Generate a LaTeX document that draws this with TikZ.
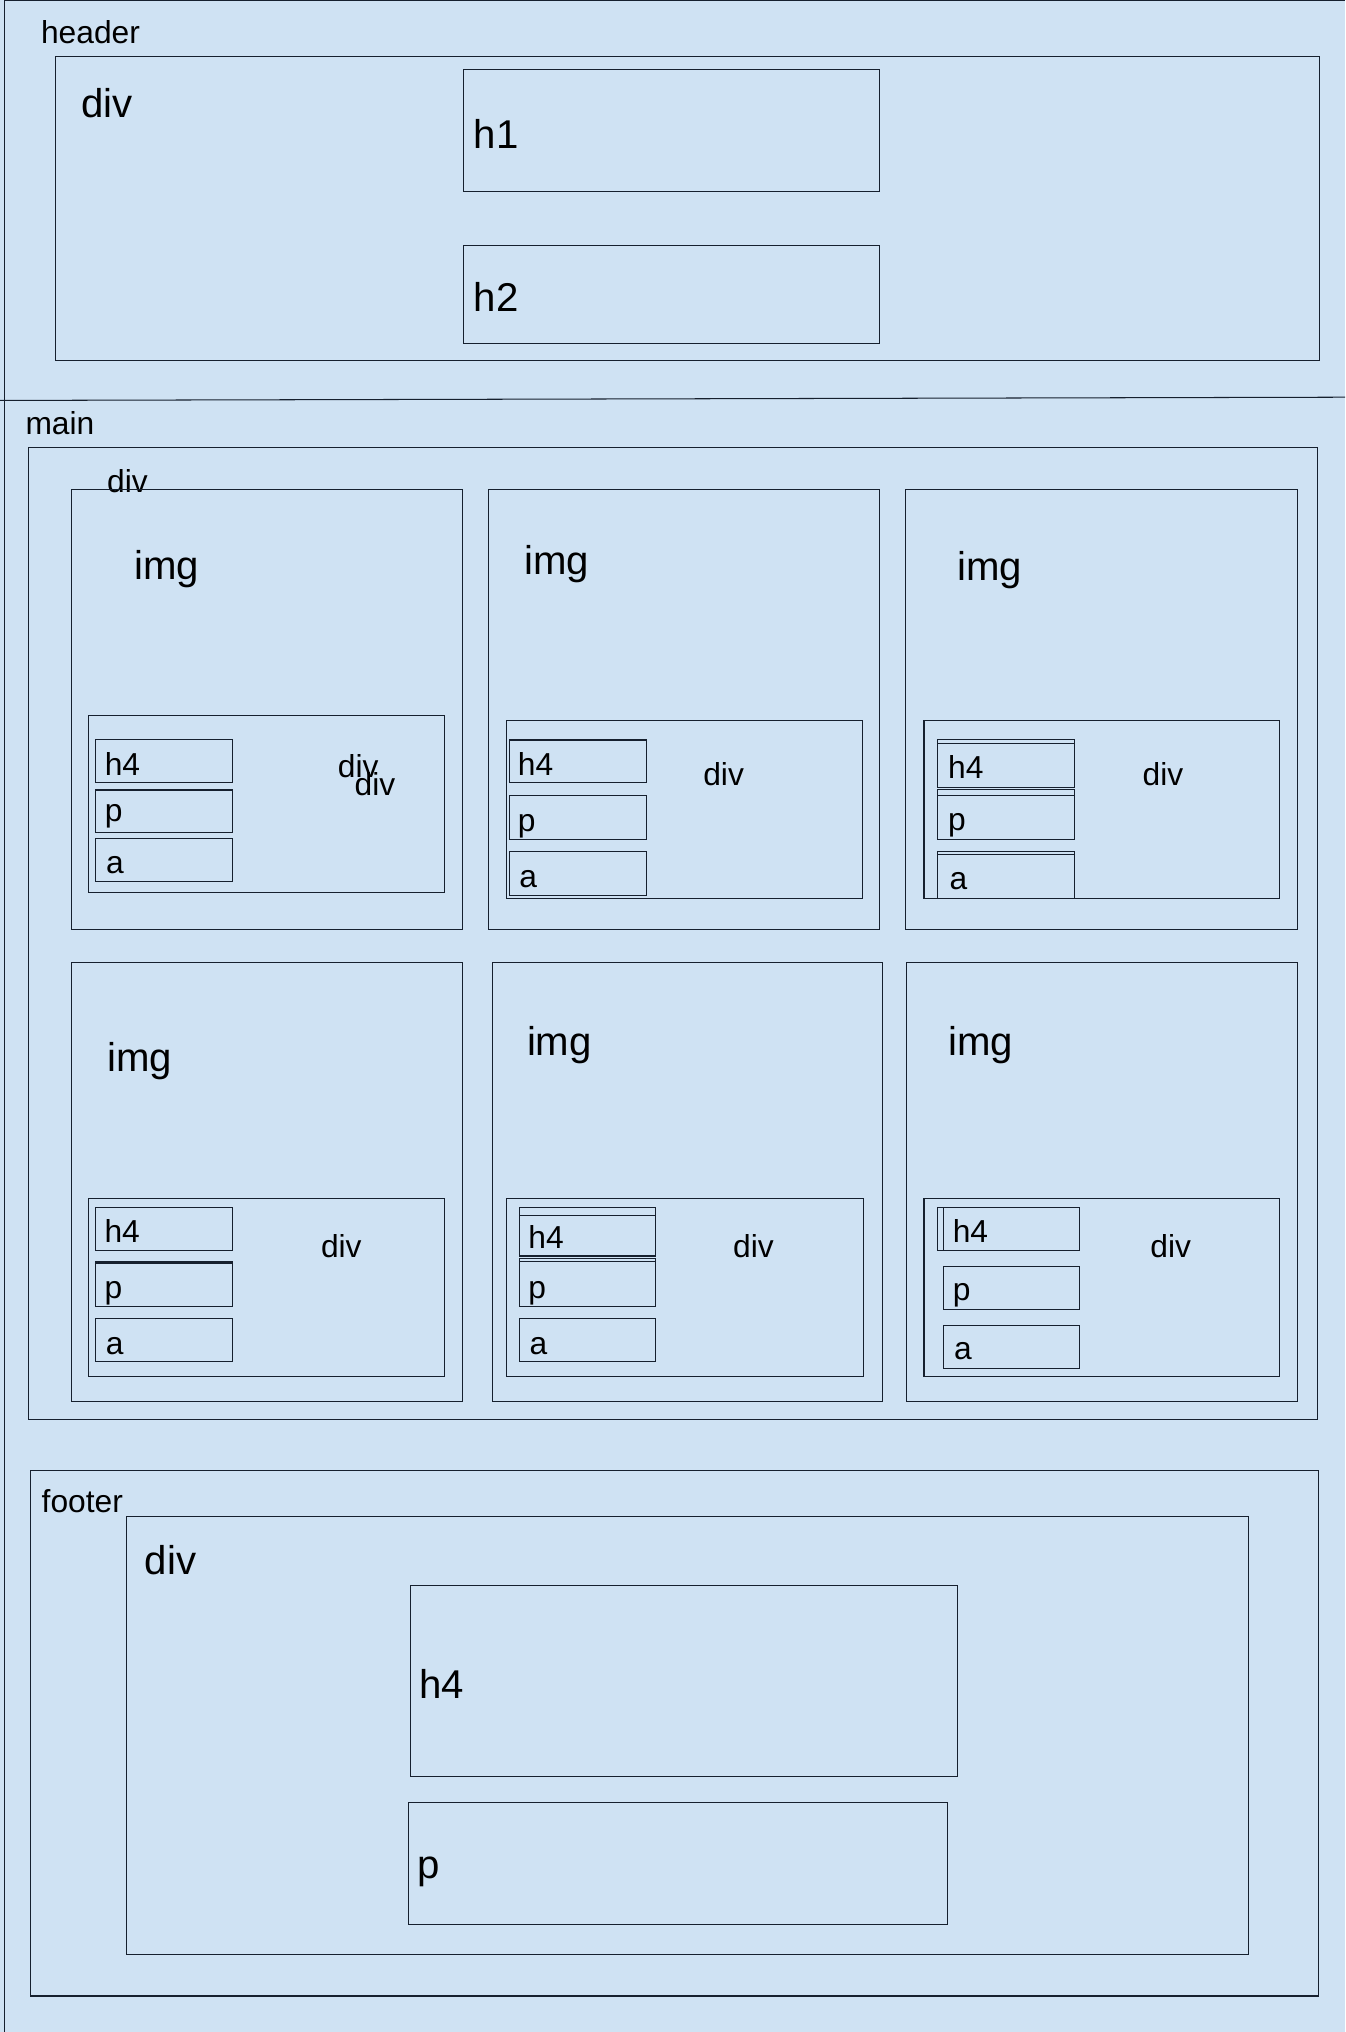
\documentclass[tikz,border=0pt]{standalone}
\usepackage{fontspec}
\setmainfont{Liberation Sans}
\definecolor{pagebg}{RGB}{207,226,243}
\definecolor{edge}{RGB}{22,32,46}

\tikzset{%
  box/.style={
    draw=edge,
    line width=0.8pt
  },
  small label/.style={
    anchor=base west,
    inner sep=0pt,
    xshift=1.5pt,
    yshift=-2pt,
    font=\fontsize{24.5}{29}\selectfont
  },
  big label/.style={
    anchor=base west,
    inner sep=0pt,
    xshift=1.5pt,
    yshift=-2pt,
    font=\fontsize{31}{37}\selectfont
  },
}

\begin{document}
\begin{tikzpicture}[x=1pt,y=-1pt]
\useasboundingbox (0,0) rectangle (1038,1568);
\fill[pagebg] (0,0) rectangle (1038,1568);
% header
\draw[box] (3.3,0.6) -- (1038,0.6);
\draw[box] (3.3,0) -- (3.3,1568);
\draw[box] (0,309) -- (1038,306.5);
\node[small label] (header label) at (30,31.4) {header};
\draw[box] (43,43.7) rectangle (1018,278);
\node[big label] (header div) at (61,88.8) {div};
\draw[box] (358,53.5) rectangle (679,148);
\node[big label] (h1 label) at (364,112.4) {h1};
\draw[box] (358,189.3) rectangle (679,265);
\node[big label] (h2 label) at (364,238.7) {h2};
% main
\node[small label] (main label) at (18,333) {main};
\draw[box] (21.7,345) rectangle (1017,1095.4);
\node[small label] (cards div) at (81,378) {div};
% card 1
\draw[box] (55,378) rectangle (356.6,717);
\node[big label] (img one) at (102,445) {img};
\draw[box] (68,552) rectangle (343,689);
\draw[box] (73.7,570.5) rectangle (179.5,604) node[small label] (h4 one) at (79,596.5) {h4};
\draw[box] (73.7,609.6) rectangle (179.5,642.5) node[small label] (p one) at (79,632) {p};
\draw[box] (73.7,647) rectangle (179.5,680) node[small label] (a one) at (80,672) {a};
\node[small label] (div one) at (259,598) {div};
\node[small label] (div one b) at (272,611.5) {div};
% card 2
\draw[box] (377,378) rectangle (678.8,717);
\node[big label] (img two) at (403,441.6) {img};
\draw[box] (390.7,556) rectangle (665.9,693);
\draw[box] (393,570.5) rectangle (498.8,604);
\draw[box] (393,571.4) -- (498.8,571.4);
\draw[box] (393,613.7) rectangle (498.8,647.6);
\draw[box] (393,657) rectangle (498.8,690.8);
\node[small label] (h4 two) at (398,596.5) {h4};
\node[small label] (p two) at (398,639.5) {p};
\node[small label] (a two) at (399,682.5) {a};
\node[small label] (div two) at (541,604) {div};
% card 3
\draw[box] (699,378) rectangle (1001,717);
\node[big label] (img three) at (737,446) {img};
\draw[box] (713,556) rectangle (987,693);
\draw[box] (723.6,570.8) rectangle (829,607.4);
\draw[box] (723.6,573.5) -- (829,573.5);
\draw[box] (723.6,609.4) rectangle (829,647.6);
\draw[box] (723.6,613.5) -- (829,613.5);
\draw[box] (723.6,657) rectangle (829,693);
\draw[box] (723.6,659.2) -- (829,659.2);
\node[small label] (h4 three) at (730,599) {h4};
\node[small label] (p three) at (730,639) {p};
\node[small label] (a three) at (731,684.6) {a};
\node[small label] (div three) at (880,604) {div};
% card 4
\draw[box] (55.1,743) rectangle (356.6,1081.7);
\node[big label] (img four) at (81,824.5) {img};
\draw[box] (68.2,924.7) rectangle (343,1062);
\draw[box] (73.7,931.7) rectangle (179.5,965);
\draw[box] (73.7,973.7) rectangle (179.5,1008);
\draw[box] (73.7,974.6) -- (179.5,974.6);
\draw[box] (73.7,1017.4) rectangle (179.5,1050.6);
\node[small label] (h4 four) at (79,957) {h4};
\node[small label] (p four) at (79,1000) {p};
\node[small label] (a four) at (80,1043) {a};
\node[small label] (div four) at (246,968.6) {div};
% card 5
\draw[box] (379.7,743) rectangle (681,1081.7);
\node[big label] (img five) at (405,812.4) {img};
\draw[box] (390.7,924.7) rectangle (666,1062);
\draw[box] (400.6,931.7) rectangle (505.7,969.8);
\draw[box] (400.6,937.7) rectangle (505.7,968.8);
\draw[box] (400.6,971) rectangle (505.7,1008);
\draw[box] (400.6,973.7) -- (505.7,973.7);
\draw[box] (400.6,1017.4) rectangle (505.7,1050.6);
\node[small label] (h4 five) at (406,961.6) {h4};
\node[small label] (p five) at (406,1000) {p};
\node[small label] (a five) at (407,1043) {a};
\node[small label] (div five) at (564,968.6) {div};
% card 6
\draw[box] (699.7,743) rectangle (1001,1081.7);
\node[big label] (img six) at (730,812.8) {img};
\draw[box] (713,924.7) rectangle (987,1062);
\draw[box] (723.6,931.7) rectangle (832.8,965);
\draw[box] (728,931.7) -- (728,965);
\draw[box] (728,977.3) rectangle (832.8,1010.4);
\draw[box] (728,1022.8) rectangle (832.8,1056);
\node[small label] (h4 six) at (733.5,957) {h4};
\node[small label] (p six) at (733.5,1001.7) {p};
\node[small label] (a six) at (734.5,1047) {a};
\node[small label] (div six) at (886,968.6) {div};
% footer
\draw[box] (23.2,1134.5) rectangle (1017.3,1540.2);
\node[small label] (footer label) at (30.5,1165.2) {footer};
\draw[box] (97.3,1170.1) rectangle (963.7,1508);
\node[big label] (footer div) at (110,1212.6) {div};
\draw[box] (316.4,1223.4) rectangle (738.6,1370.5);
\node[big label] (footer h4) at (322,1308.5) {h4};
\draw[box] (315,1390.9) rectangle (731.4,1484.7);
\node[big label] (footer p) at (320.5,1447.6) {p};
\end{tikzpicture}
\end{document}
